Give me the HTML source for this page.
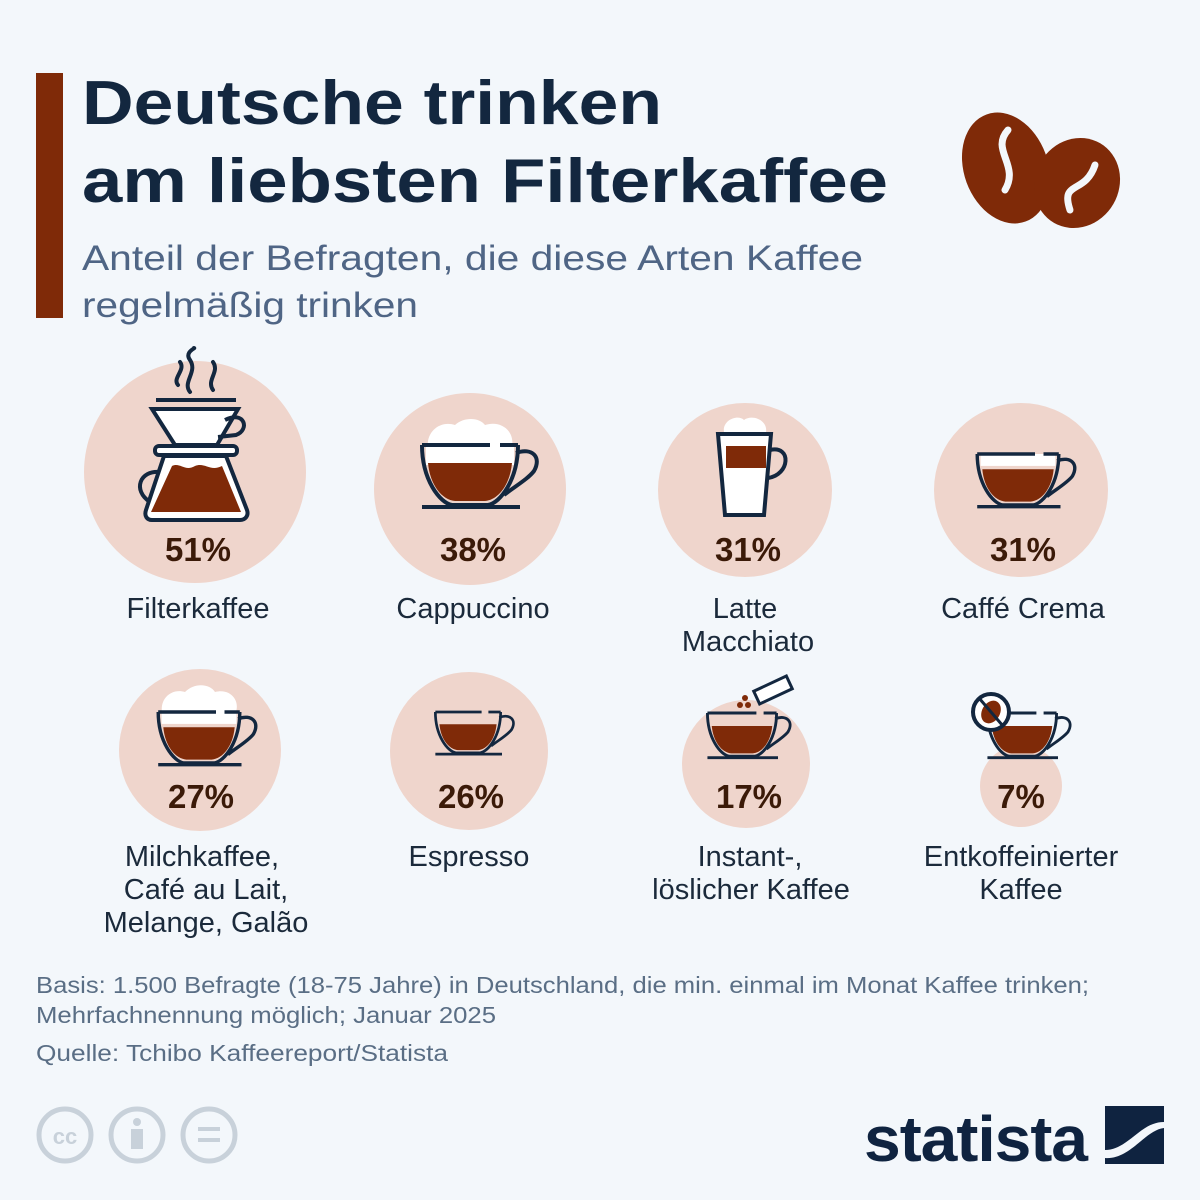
<!DOCTYPE html>
<html><head><meta charset="utf-8"><style>
body{margin:0;background:#f3f7fb;}
svg{display:block}
text{font-family:"Liberation Sans","DejaVu Sans",sans-serif}
</style></head><body>
<svg width="1200" height="1200" viewBox="0 0 1200 1200" xmlns="http://www.w3.org/2000/svg">
<rect width="1200" height="1200" fill="#f3f7fb"/>
<rect x="36" y="73" width="27" height="245" fill="#7f2a08"/>
<text x="82" y="124" font-size="62" font-weight="bold" fill="#13273f" textLength="580" lengthAdjust="spacingAndGlyphs">Deutsche trinken</text>
<text x="82" y="202" font-size="62" font-weight="bold" fill="#13273f" textLength="806" lengthAdjust="spacingAndGlyphs">am liebsten Filterkaffee</text>
<text x="82" y="270" font-size="35" fill="#4f6585" textLength="781" lengthAdjust="spacingAndGlyphs">Anteil der Befragten, die diese Arten Kaffee</text>
<text x="82" y="317" font-size="35" fill="#4f6585" textLength="336" lengthAdjust="spacingAndGlyphs">regelmäßig trinken</text>
<!-- beans -->
<g fill="#7f2a08">
<ellipse cx="1006" cy="168" rx="42" ry="57" transform="rotate(-20 1006 168)"/>
<ellipse cx="1077" cy="183" rx="42" ry="46" transform="rotate(30 1077 183)"/>
</g>
<g fill="none" stroke="#f3f7fb" stroke-width="7" stroke-linecap="round">
<path d="M1008,130 C990,150 1020,165 1005,190"/>
<path d="M1095,165 C1085,195 1060,180 1070,210"/>
</g>
<!-- circles -->
<g fill="#efd5cc">
<circle cx="195" cy="472" r="111"/>
<circle cx="470" cy="489" r="96"/>
<circle cx="745" cy="490" r="87"/>
<circle cx="1021" cy="490" r="87"/>
<circle cx="200" cy="750" r="81"/>
<circle cx="469" cy="751" r="79"/>
<circle cx="746" cy="764" r="64"/>
<circle cx="1021" cy="786" r="41"/>
</g>
<defs>
<g id="cup">
<path d="M-42,18 L42,18 C40,40 28,55 15,56 L-15,56 C-28,55 -40,40 -42,18Z" fill="#7f2a08"/>
<path d="M-48,0 C-48,35 -30,58 -18,60 L18,60 C30,58 48,35 48,0 M-48,0 L20,0 M30,0 L48,0" fill="none" stroke="#13273f" stroke-width="4"/>
<path d="M46,8 C62,2 72,12 64,26 C58,34 44,42 34,50" fill="none" stroke="#13273f" stroke-width="4"/>
<path d="M-48,62 L50,62" stroke="#13273f" stroke-width="4"/>
</g>
</defs>
<!-- filter coffee -->
<g fill="none" stroke="#13273f" stroke-width="4" stroke-linecap="round">
<path d="M178,385 C172,378 186,370 180,362 M190,392 C182,382 198,372 190,360 C184,352 196,348 194,348 M213,390 C206,380 220,372 213,362"/>
</g>
<path d="M152,409 L238,409 L217,445 L175,445Z" fill="#fff" stroke="#13273f" stroke-width="4"/>
<path d="M156,400 L236,400" stroke="#13273f" stroke-width="4"/>
<path d="M225,420 C245,410 250,430 236,435 L218,437" fill="none" stroke="#13273f" stroke-width="4"/>
<rect x="155" y="446" width="82" height="9" rx="4" fill="#fff" stroke="#13273f" stroke-width="4"/>
<path d="M164,456 L226,456 L247,510 C249,516 245,520 240,520 L152,520 C147,520 144,516 146,510Z" fill="#fff" stroke="#13273f" stroke-width="4"/>
<path d="M172,466 C180,462 185,472 195,466 C205,462 210,472 222,466 L241,512 L151,512Z" fill="#7f2a08"/>
<path d="M160,472 C140,470 132,490 150,502" fill="none" stroke="#13273f" stroke-width="4"/>
<!-- cappuccino -->
<path d="M428,447 C426,432 440,420 455,425 C465,416 480,418 485,425 C500,420 515,430 512,447Z" fill="#fff"/>
<g transform="translate(470,445)"><rect x="-44" y="0" width="88" height="20" fill="#fff"/><use href="#cup"/></g>
<!-- latte -->
<path d="M724,432 C722,420 738,414 744,420 C752,414 768,420 766,432Z" fill="#fff"/>
<path d="M718,434 L771,434 L764,515 L725,515Z" fill="#fff" stroke="#13273f" stroke-width="4"/>
<rect x="726" y="446" width="40" height="22" fill="#7f2a08"/>
<path d="M770,450 C792,445 790,475 768,478" fill="none" stroke="#13273f" stroke-width="4"/>
<!-- crema -->
<g transform="translate(1018,454) scale(0.85)"><rect x="-44" y="0" width="88" height="14" fill="#fff"/><use href="#cup"/></g>
<!-- milch -->
<path d="M162,712 C160,698 172,688 185,692 C195,682 210,684 215,692 C230,688 240,700 236,712Z" fill="#fff"/>
<g transform="translate(199,712) scale(0.85)"><rect x="-44" y="0" width="88" height="14" fill="#fff"/><use href="#cup"/></g>
<!-- espresso -->
<g transform="translate(468,712) scale(0.68)"><use href="#cup"/></g>
<!-- instant -->
<g transform="translate(742,713) scale(0.72)"><use href="#cup"/></g>
<rect x="755" y="683" width="36" height="14" fill="#fff" stroke="#13273f" stroke-width="3" transform="rotate(-25 773 690)"/>
<g fill="#7f2a08"><circle cx="740" cy="705" r="3"/><circle cx="748" cy="705" r="3"/><circle cx="745" cy="698" r="3"/></g>
<!-- entkoff -->
<g transform="translate(1022,713) scale(0.72)"><use href="#cup"/></g>
<circle cx="991" cy="712" r="18" fill="#fff" stroke="#13273f" stroke-width="4"/>
<ellipse cx="991" cy="712" rx="9" ry="12" fill="#7f2a08" transform="rotate(30 991 712)"/>
<path d="M979,698 L1003,726" stroke="#13273f" stroke-width="3"/>
<!-- percentages -->
<g font-size="33" font-weight="bold" fill="#3b1a08" text-anchor="middle">
<text x="198" y="561">51%</text><text x="473" y="561">38%</text>
<text x="748" y="561">31%</text><text x="1023" y="561">31%</text>
<text x="201" y="808">27%</text><text x="471" y="808">26%</text>
<text x="749" y="808">17%</text><text x="1021" y="808">7%</text>
</g>
<g font-size="29" fill="#1b2a3b" text-anchor="middle">
<text x="198" y="618">Filterkaffee</text>
<text x="473" y="618">Cappuccino</text>
<text x="745" y="618">Latte</text><text x="748" y="651">Macchiato</text>
<text x="1023" y="618">Caffé Crema</text>
<text x="202" y="866">Milchkaffee,</text><text x="206" y="899">Café au Lait,</text><text x="206" y="932">Melange, Galão</text>
<text x="469" y="866">Espresso</text>
<text x="750" y="866">Instant-,</text><text x="751" y="899">löslicher Kaffee</text>
<text x="1021" y="866">Entkoffeinierter</text><text x="1021" y="899">Kaffee</text>
</g>
<g font-size="23" fill="#5a6e85">
<text x="36" y="993" textLength="1053" lengthAdjust="spacingAndGlyphs">Basis: 1.500 Befragte (18-75 Jahre) in Deutschland, die min. einmal im Monat Kaffee trinken;</text>
<text x="36" y="1023" textLength="460" lengthAdjust="spacingAndGlyphs">Mehrfachnennung möglich; Januar 2025</text>
<text x="36" y="1061" textLength="412" lengthAdjust="spacingAndGlyphs">Quelle: Tchibo Kaffeereport/Statista</text>
</g>
<g fill="none" stroke="#c8d1da" stroke-width="5">
<circle cx="65" cy="1135" r="26"/><circle cx="137" cy="1135" r="26"/><circle cx="209" cy="1135" r="26"/>
</g>
<text x="65" y="1144" font-size="22" font-weight="bold" fill="#c8d1da" text-anchor="middle">cc</text>
<circle cx="137" cy="1122" r="4" fill="#c8d1da"/><rect x="131" y="1129" width="12" height="20" fill="#c8d1da"/>
<rect x="198" y="1127" width="22" height="4" fill="#c8d1da"/><rect x="198" y="1138" width="22" height="4" fill="#c8d1da"/>
<text x="864" y="1161" font-size="64" font-weight="bold" fill="#0f2340" letter-spacing="-1" textLength="223" lengthAdjust="spacingAndGlyphs">statista</text>
<path d="M1105,1106 L1164,1106 L1164,1122 C1140,1122 1128,1150 1105,1150Z" fill="#0f2340"/>
<path d="M1105,1164 L1164,1164 L1164,1128 C1145,1130 1130,1160 1105,1158Z" fill="#0f2340"/>
</svg>
</body></html>
